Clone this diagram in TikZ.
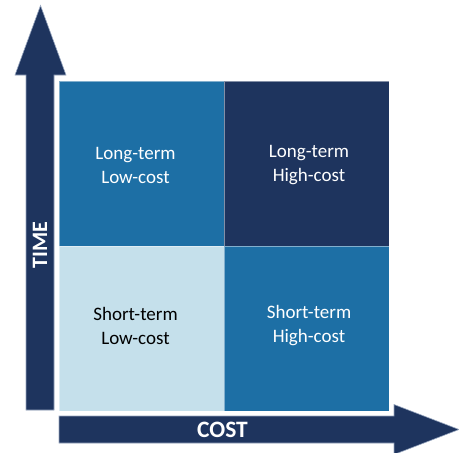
\documentclass[tikz,border=0pt]{standalone}
\usepackage{fontspec}
\setmainfont{Carlito}
\definecolor{navy}{RGB}{30,52,94}
\definecolor{midblue}{RGB}{29,111,165}
\definecolor{lightblue}{RGB}{197,224,235}
\definecolor{edgegray}{RGB}{150,165,190}
\begin{document}
\begin{tikzpicture}[x=1pt,y=-1pt,
  cell/.style={minimum width=165pt,minimum height=165pt,inner sep=0pt,outer sep=0pt,
    draw=white,draw opacity=0.45,line width=0.8pt},
  celltext/.style={align=center,inner sep=0pt,font=\fontsize{19}{24}\selectfont},
  axisarrow/.style={fill=navy,draw=edgegray,line width=0.6pt},
  axislabel/.style={text=white,font=\fontsize{22}{26}\selectfont\bfseries}]
\useasboundingbox (0,0) rectangle (459,453);
% arrows
\draw[axisarrow] (26,410) -- (26,75) -- (15,75) -- (40.5,5.5) -- (66,75) -- (54,75) -- (54,410) -- cycle;
\draw[axisarrow] (59,416) -- (394,416) -- (394,404.5) -- (459,429.5) -- (394,454.5) -- (394,443) -- (59,443) -- cycle;
% cells
\node[cell,fill=midblue] (ll) at (141.5,163.5) {};
\node[cell,fill=navy] (lh) at (306.5,163.5) {};
\node[cell,fill=lightblue] (sl) at (141.5,328.5) {};
\node[cell,fill=midblue] (sh) at (306.5,328.5) {};
\node[celltext,text=white] (llt) at (135.5,165.5) {Long-term\\Low-cost};
\node[celltext,text=white] (lht) at (309,165.5) {Long-term\\High-cost};
\node[celltext,text=black] (slt) at (135.5,326) {Short-term\\Low-cost};
\node[celltext,text=white] (sht) at (309,326) {Short-term\\High-cost};
% labels
\node[axislabel,rotate=90] (time) at (40,245) {TIME};
\node[axislabel,font=\fontsize{23.5}{26}\selectfont\bfseries] (cost) at (222.5,430) {COST};
\end{tikzpicture}
\end{document}
